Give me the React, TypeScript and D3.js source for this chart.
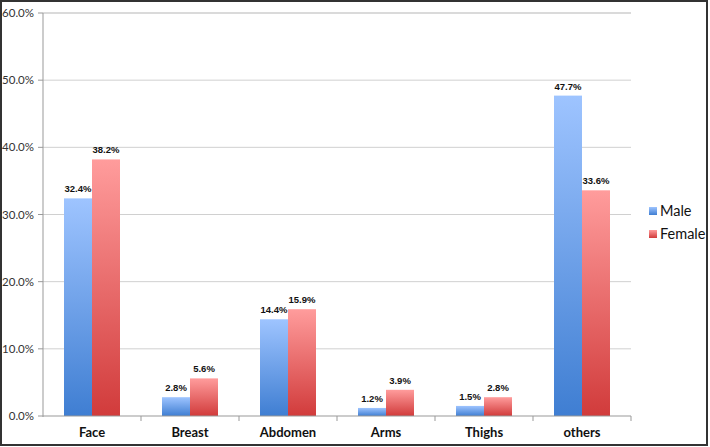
import React from "react";
import * as d3 from "d3";

const categories = ["Face", "Breast", "Abdomen", "Arms", "Thighs", "others"];
const maleValues = [32.4, 2.8, 14.4, 1.2, 1.5, 47.7];
const femaleValues = [38.2, 5.6, 15.9, 3.9, 2.8, 33.6];
const seriesNames = ["Male", "Female"];
const yTicks = [0, 10, 20, 30, 40, 50, 60];

const W = 710, H = 447;
const left = 43, right = 631, top = 13, bottom = 416;

export default function App() {
  const x = d3.scaleBand<string>().domain(categories).range([left, right]).paddingInner(0).paddingOuter(0);
  const y = d3.scaleLinear().domain([0, 60]).range([bottom, top]);
  const bw = x.bandwidth();
  const barW = 28;
  const sub = d3.scaleBand<string>().domain(seriesNames).range([bw / 2 - barW, bw / 2 + barW]);
  const series = [
    { name: "Male", values: maleValues, grad: "gMale" },
    { name: "Female", values: femaleValues, grad: "gFemale" },
  ];
  const font = "'Liberation Sans', Arial, sans-serif";
  const lato = "Lato, 'Open Sans', sans-serif";
  return (
    <svg width={W} height={H} style={{ position: "fixed", left: 0, top: 0, background: "#fff" }} fontFamily={font}>
      <defs>
        <linearGradient id="gMale" x1="0" y1="0" x2="0" y2="1">
          <stop offset="0" stopColor="#9ec4ff" />
          <stop offset="1" stopColor="#3f7ed2" />
        </linearGradient>
        <linearGradient id="gFemale" x1="0" y1="0" x2="0" y2="1">
          <stop offset="0" stopColor="#ff9c9c" />
          <stop offset="1" stopColor="#d13b3b" />
        </linearGradient>
      </defs>
      <rect x={0} y={0} width={W} height={H} fill="#fff" />
      {yTicks.map((t) => (
        <g key={t}>
          {t > 0 && <line x1={left} x2={right} y1={y(t)} y2={y(t)} stroke={t === 60 ? "#b5b5b5" : "#d0d0d0"} strokeWidth={1} />}
          <line x1={left - 5} x2={left} y1={y(t)} y2={y(t)} stroke="#999" />
          <text x={left - 9} y={y(t)} dy="0.35em" textAnchor="end" fontSize={11.5} fill="#333" fontFamily={lato}>
            {t.toFixed(1) + "%"}
          </text>
        </g>
      ))}
      {categories.map((c, i) => (
        <g key={c}>
          {series.map((s) => {
            const v = s.values[i];
            const bx = (x(c) as number) + (sub(s.name) as number);
            return (
              <g key={s.name}>
                <rect x={bx} y={y(v)} width={barW} height={bottom - y(v)} fill={`url(#${s.grad})`} />
                <text x={bx + barW / 2} y={y(v) - 6} textAnchor="middle" fontSize={9.5} fontWeight="bold" fill="#111">
                  {v.toFixed(1) + "%"}
                </text>
              </g>
            );
          })}
          <text x={(x(c) as number) + bw / 2} y={437} textAnchor="middle" fontSize={13} fontWeight="bold" fill="#111" fontFamily={lato}>
            {c}
          </text>
        </g>
      ))}
      {categories.map((c) => (
        <line key={"t" + c} x1={(x(c) as number) + bw} x2={(x(c) as number) + bw} y1={bottom} y2={bottom + 5} stroke="#999" />
      ))}
      <line x1={left} x2={left} y1={top} y2={bottom + 1} stroke="#999" />
      <line x1={left} x2={right} y1={bottom} y2={bottom} stroke="#999" />
      {series.map((s, i) => (
        <g key={s.name}>
          <rect x={649} y={207 + i * 23} width={8} height={8} fill={`url(#${s.grad})`} />
          <text x={660} y={211 + i * 23} dy="0.35em" fontSize={14.5} fill="#111" fontFamily={lato}>
            {s.name}
          </text>
        </g>
      ))}
      <rect x={1} y={1} width={W - 4} height={H - 3} fill="none" stroke="#333" strokeWidth={2} />
    </svg>
  );
}
